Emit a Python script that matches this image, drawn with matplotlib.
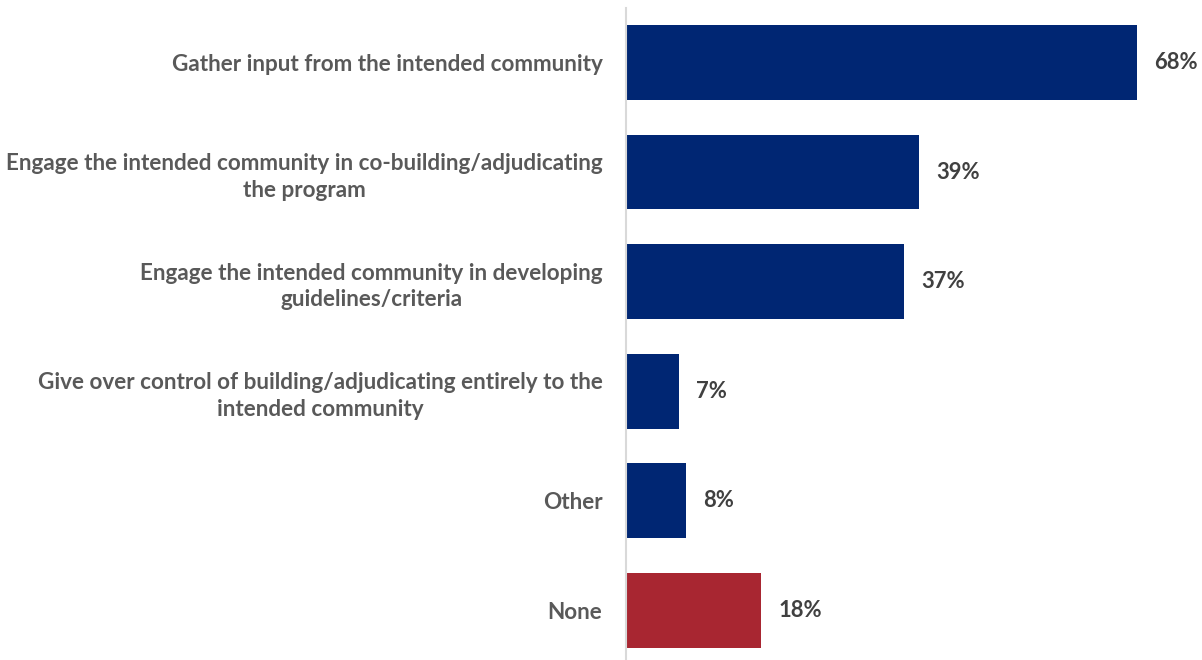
import matplotlib
matplotlib.use("Agg")
import matplotlib.pyplot as plt

categories = [
    "Gather input from the intended community",
    "Engage the intended community in co-building/adjudicating\nthe program",
    "Engage the intended community in developing\nguidelines/criteria",
    "Give over control of building/adjudicating entirely to the\nintended community",
    "Other",
    "None",
]
values = [68, 39, 37, 7, 8, 18]
colors = ["#002673", "#002673", "#002673", "#002673", "#002673", "#A82631"]

plt.rcParams['font.family'] = ['Lato', 'DejaVu Sans']

fig = plt.figure(figsize=(12.02, 6.6), dpi=100)
W, H = 1202, 660
left = 626 / W
right = 1190 / W
top = 1 - 7.7 / H
bottom = -5 / H
ax = fig.add_axes([left, bottom, right - left, top - bottom])

ypos = list(range(len(categories)))
ax.barh(ypos, values, height=0.684, color=colors, zorder=2)
ax.set_ylim(len(categories) - 0.5, -0.5)
ax.set_xlim(0, (1190 - 626) / 7.51)

for y, v in zip(ypos, values):
    ax.text(v + 2.3, y, f"{v}%", va="center", ha="left", fontsize=15.8,
            fontweight="bold", color="#404040")

ax.set_yticks(ypos)
ax.set_yticklabels(categories, fontsize=16.2, fontweight="bold", color="#595959")
ax.tick_params(axis="y", length=0, pad=17)
for lbl in ax.get_yticklabels():
    lbl.set_multialignment("center")
    lbl.set_linespacing(1.33)
ax.set_xticks([])
for s in ["top", "right", "bottom"]:
    ax.spines[s].set_visible(False)
ax.spines["left"].set_color("#D9D9D9")
ax.spines["left"].set_linewidth(1.5)

fig.savefig("out.png", dpi=100)
